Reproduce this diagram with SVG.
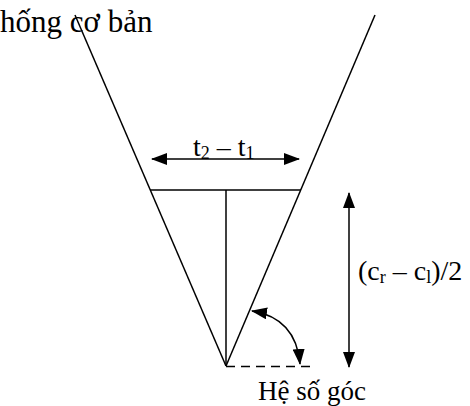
<svg xmlns="http://www.w3.org/2000/svg" width="470" height="406" viewBox="0 0 470 406">
<style>
.ln{stroke:#000;stroke-width:1.5;fill:none}
.t{font-family:"Liberation Serif","Times New Roman",serif;font-size:27px;fill:#000}
.s{font-size:18px}
</style>
<defs>
<marker id="ah" markerWidth="16" markerHeight="12" refX="15" refY="6" orient="auto-start-reverse" markerUnits="userSpaceOnUse">
<path d="M0,0 L16,6 L0,12 Z" fill="#000"/>
</marker>
</defs>
<rect width="470" height="406" fill="#fff"/>
<g id="shape">
<line class="ln" x1="75" y1="15" x2="226" y2="366"/>
<line class="ln" x1="375" y1="15" x2="226" y2="366"/>
<line class="ln" x1="150" y1="190" x2="301" y2="190"/>
<line class="ln" x1="226" y1="190" x2="226" y2="366"/>
</g>
<g id="connectors">
<line class="ln" x1="152" y1="159" x2="299" y2="159" marker-start="url(#ah)" marker-end="url(#ah)"/>
<line class="ln" x1="349" y1="193" x2="349" y2="367" marker-start="url(#ah)" marker-end="url(#ah)"/>
<line class="ln" x1="226" y1="366.5" x2="313" y2="366.5" stroke-dasharray="9,6"/>
<path class="ln" d="M252,311 Q296,318 300,364" marker-start="url(#ah)" marker-end="url(#ah)"/>
</g>
<g id="labels">
<text class="t" x="0" y="32" style="font-size:31px">hống cơ bản</text>
<text class="t" x="193" y="156" style="font-size:28px">t<tspan class="s" dy="3">2</tspan><tspan dy="-3"> – t</tspan><tspan class="s" dy="3">1</tspan></text>
<text class="t" x="358" y="280" style="font-size:28px">(c<tspan class="s" dy="3">r</tspan><tspan dy="-3"> – c</tspan><tspan class="s" dy="3">l</tspan><tspan dy="-3">)/2</tspan></text>
<text class="t" x="258" y="400">Hệ số góc</text>
</g>
</svg>
